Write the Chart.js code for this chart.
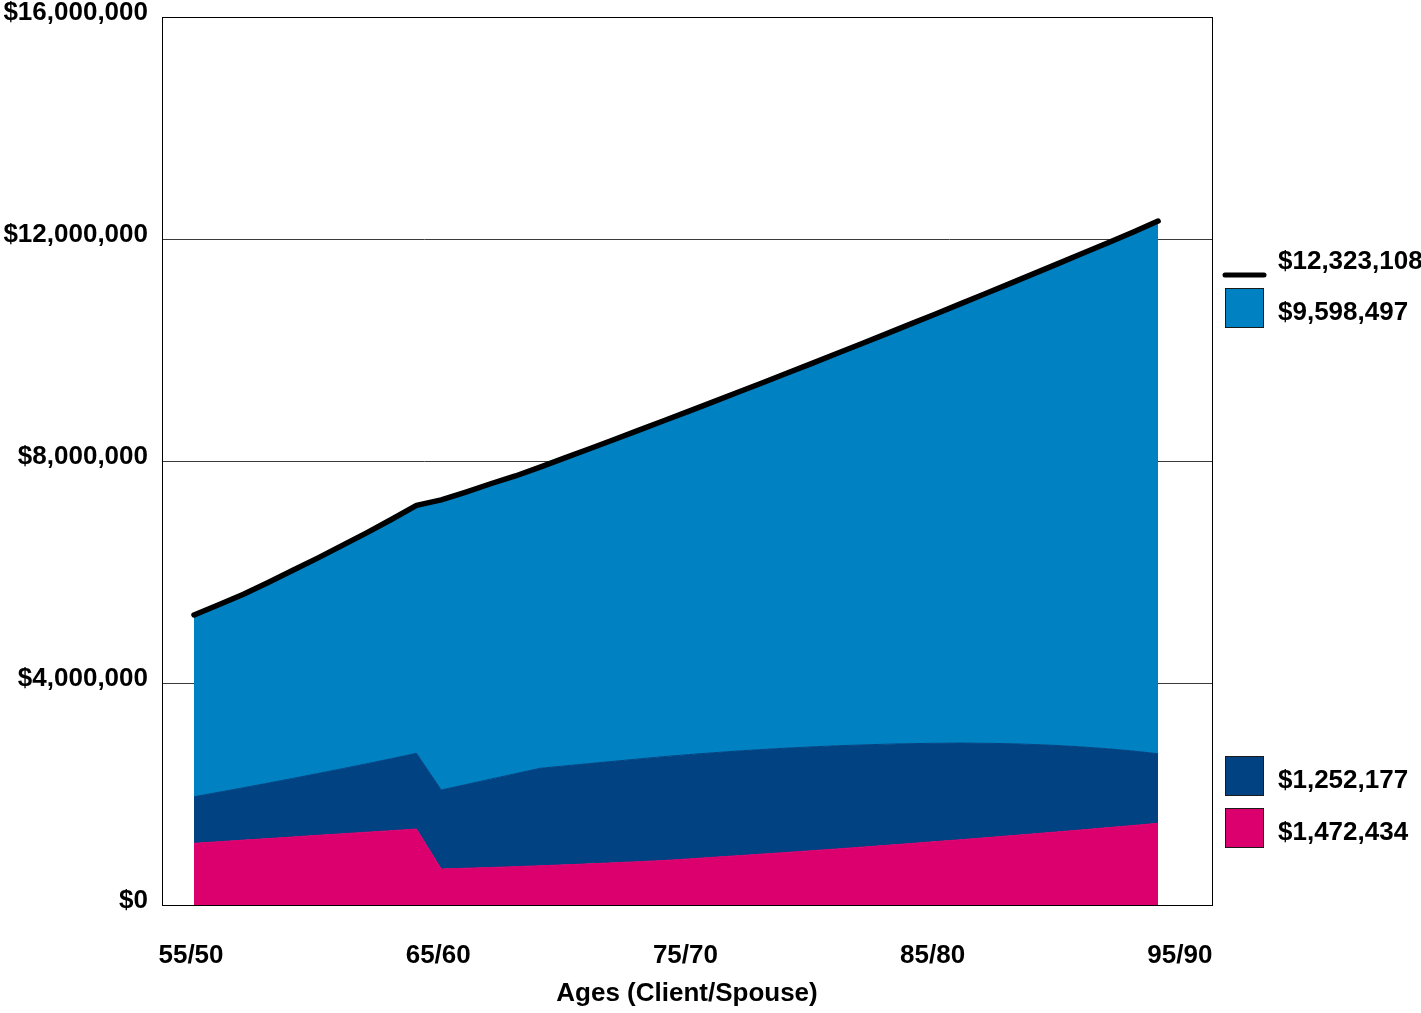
<!DOCTYPE html>
<html>
<head>
<meta charset="utf-8">
<script src="https://cdn.jsdelivr.net/npm/chart.js@4.4.1/dist/chart.umd.min.js"></script>
<style>
  html, body { margin: 0; padding: 0; background: #ffffff; }
  #c { display: block; }
</style>
</head>
<body>
<canvas id="c" width="1421" height="1013"></canvas>
<script>
// Client ages (spouse is 5 years younger)
const ages = [55,56,57,58,59,60,61,62,63,64,65,66,67,68,69,70,71,72,73,74,75,76,77,78,79,80,81,82,83,84,85,86,87,88,89,90,91,92,93,94];

// Bottom series (pink)
const pinkVals = [1112000,1140000,1169000,1197000,1226000,1255000,1283000,1312000,1340000,1369000,
  649000,662000,676000,691000,707000,724000,742000,761000,781000,802000,
  830000,859000,888000,918000,948000,979000,1010000,1042000,1075000,1108000,
  1142000,1176000,1211000,1247000,1283000,1320000,1357000,1395000,1433000,1472434];

// Middle series (dark blue)
const darkVals = [839000,891000,944000,999000,1055000,1113000,1173000,1234000,1298000,1364000,
  1423000,1508000,1592000,1675000,1756000,1782000,1806000,1829000,1851000,1871000,
  1879000,1884000,1886000,1884000,1879000,1870000,1858000,1842000,1822000,1799000,
  1772000,1741000,1703000,1659000,1609000,1552000,1489000,1419000,1341000,1252177];

// Top series (light blue)
const lightVals = [3274000,3379000,3487000,3614000,3749000,3882000,4024000,4164000,4312000,4467000,
  5228000,5270000,5322000,5364000,5427000,5549000,5673000,5798000,5924000,6052000,
  6186000,6323000,6464000,6609000,6758000,6911000,7068000,7229000,7394000,7563000,
  7736000,7914000,8099000,8290000,8488000,8693000,8905000,9124000,9352000,9598497];

// Total (black line)
const totalVals = [5225000,5410000,5600000,5810000,6030000,6250000,6480000,6710000,6950000,7200000,
  7300000,7440000,7590000,7730000,7890000,8055000,8221000,8388000,8556000,8725000,
  8895000,9066000,9238000,9411000,9585000,9760000,9936000,10113000,10291000,10470000,
  10650000,10831000,11013000,11196000,11380000,11565000,11751000,11938000,12126000,12323108];

const tickAges = [55,65,75,85,95];
const tickLabels = ['55/50','65/60','75/70','85/80','95/90'];
const yTicks = [0,4000000,8000000,12000000,16000000];

const PINK = '#DB006E';
const DARK = '#004282';
const LIGHT = '#0081C2';
const FONT = { family: '"Liberation Sans", Arial, Helvetica, sans-serif', size: 26, weight: 'bold' };
const FONT_CSS = 'bold 26px "Liberation Sans", Arial, Helvetica, sans-serif';

const pts = (vals) => ages.map((a, i) => ({ x: a, y: vals[i] }));
const money = (v) => '$' + Math.round(v).toLocaleString('en-US');

const framePlugin = {
  id: 'frame',
  afterDraw(chart) {
    const { ctx, chartArea: a } = chart;
    ctx.save();
    ctx.strokeStyle = '#000';
    ctx.lineWidth = 1;
    ctx.strokeRect(Math.round(a.left) + 0.5, Math.round(a.top) + 0.5,
                   Math.round(a.right - a.left), Math.round(a.bottom - a.top));
    ctx.restore();
  }
};

const legendPlugin = {
  id: 'sideLegend',
  afterDraw(chart) {
    const ctx = chart.ctx;
    ctx.save();
    ctx.font = FONT_CSS;
    ctx.fillStyle = '#000';
    ctx.textBaseline = 'middle';
    ctx.textAlign = 'left';
    ctx.strokeStyle = '#000';
    ctx.lineWidth = 5;
    ctx.lineCap = 'round';
    ctx.beginPath();
    ctx.moveTo(1225, 275);
    ctx.lineTo(1264, 275);
    ctx.stroke();
    ctx.fillText(money(totalVals[totalVals.length - 1]), 1278, 262);
    const items = [
      { color: LIGHT, y: 289, val: lightVals[lightVals.length - 1] },
      { color: DARK, y: 757, val: darkVals[darkVals.length - 1] },
      { color: PINK, y: 809, val: pinkVals[pinkVals.length - 1] }
    ];
    items.forEach(it => {
      ctx.fillStyle = it.color;
      ctx.fillRect(1226, it.y, 37, 38);
      ctx.strokeStyle = '#1a1a1a';
      ctx.lineWidth = 1;
      ctx.strokeRect(1225.5, it.y - 0.5, 38, 39);
      ctx.fillStyle = '#000';
      ctx.fillText(money(it.val), 1278, it.y + 24);
    });
    ctx.restore();
  }
};

new Chart(document.getElementById('c'), {
  type: 'line',
  data: {
    datasets: [
      { label: 'pink', data: pts(pinkVals), backgroundColor: PINK, borderColor: PINK, borderWidth: 1,
        fill: 'origin', pointRadius: 0, tension: 0, stack: 'assets', order: 1 },
      { label: 'dark', data: pts(darkVals), backgroundColor: DARK, borderColor: DARK, borderWidth: 1,
        fill: '-1', pointRadius: 0, tension: 0, stack: 'assets', order: 1 },
      { label: 'light', data: pts(lightVals), backgroundColor: LIGHT, borderColor: LIGHT, borderWidth: 1,
        fill: '-1', pointRadius: 0, tension: 0, stack: 'assets', order: 1 },
      { label: 'total', data: pts(totalVals), borderColor: '#000', borderWidth: 5.5, fill: false,
        pointRadius: 0, tension: 0, stack: 'total', order: 0,
        borderCapStyle: 'round', borderJoinStyle: 'round' }
    ]
  },
  options: {
    responsive: false,
    animation: false,
    devicePixelRatio: 1,
    layout: { padding: { left: 0, right: 209, top: 17, bottom: 0 } },
    plugins: { legend: { display: false }, tooltip: { enabled: false } },
    scales: {
      x: {
        type: 'linear',
        min: 53.706,
        max: 96.18,
        afterFit: (s) => { s.height = 108; s.paddingLeft = 0; s.paddingRight = 0; },
        afterBuildTicks: (s) => { s.ticks = tickAges.map(v => ({ value: v })); },
        grid: { display: false },
        border: { display: false },
        ticks: {
          autoSkip: false, maxRotation: 0, minRotation: 0,
          labelOffset: -3, padding: 27,
          color: '#000', font: FONT,
          callback: (v) => tickLabels[tickAges.indexOf(v)]
        },
        title: { display: true, text: 'Ages (Client/Spouse)', color: '#000', font: FONT,
                 padding: { top: 0, bottom: 4 } }
      },
      y: {
        stacked: true,
        min: 0,
        max: 16000000,
        afterFit: (s) => { s.width = 162; s.paddingTop = 0; s.paddingBottom = 0; },
        afterBuildTicks: (s) => { s.ticks = yTicks.map(v => ({ value: v })); },
        grid: { color: '#3a3a3a', lineWidth: 1, drawTicks: false },
        border: { display: false },
        ticks: { padding: 14, labelOffset: -4, color: '#000', font: FONT,
                 callback: (v) => money(v) }
      }
    }
  },
  plugins: [framePlugin, legendPlugin]
});
</script>
</body>
</html>
